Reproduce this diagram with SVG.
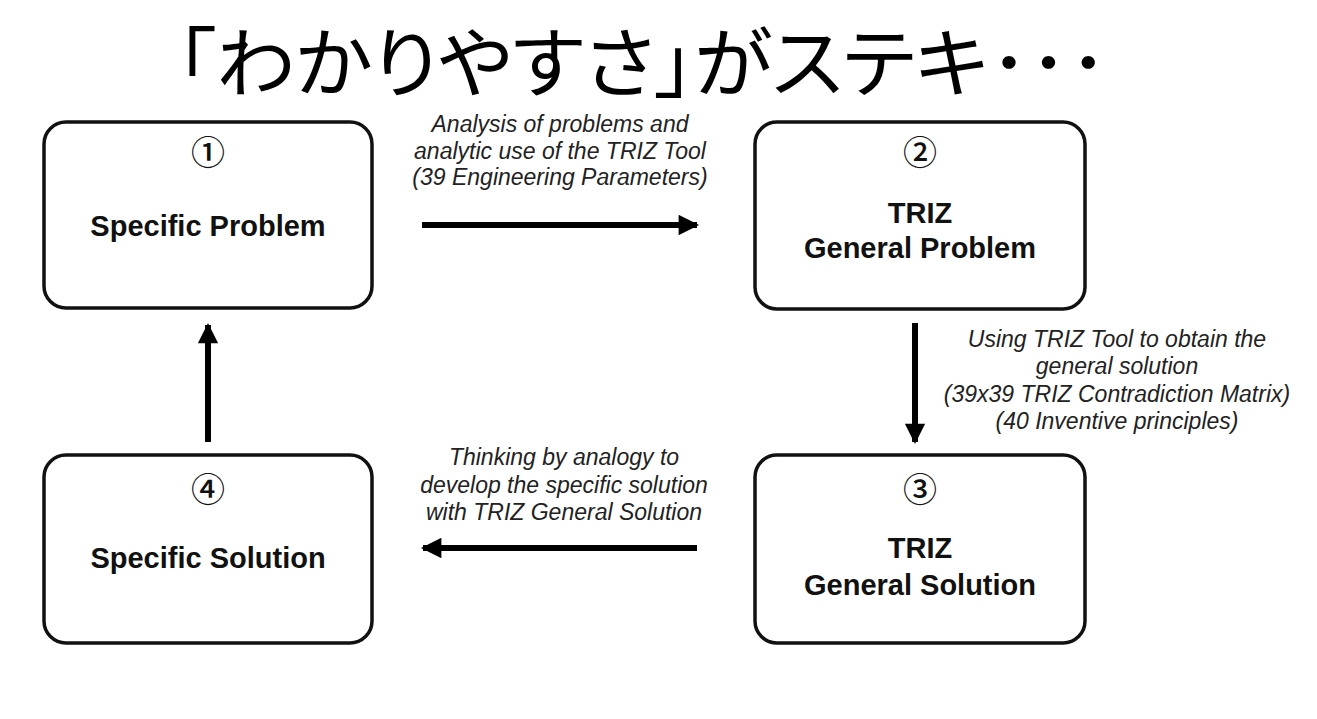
<svg xmlns="http://www.w3.org/2000/svg" width="1317" height="719" viewBox="0 0 1317 719">
<style>
.box{fill:#fff;stroke:#111;stroke-width:3.5}
.num{font-family:"Noto Sans CJK JP","Noto Sans",sans-serif;font-size:34px;font-weight:500;fill:#111;text-anchor:middle}
.lbl{font-family:"Liberation Sans",Arial,sans-serif;font-weight:bold;font-size:29px;fill:#111;text-anchor:middle}
.cap{font-family:"Liberation Sans",Arial,sans-serif;font-style:italic;font-size:23px;fill:#222;text-anchor:middle}
.title{font-family:"Noto Sans CJK JP",sans-serif;font-size:76px;fill:#000;font-feature-settings:"palt"}
.conn{stroke:#000;stroke-width:6;fill:none}
</style>
<defs>
<marker id="ah" viewBox="0 0 10 10" refX="9" refY="5" markerWidth="4" markerHeight="3.4" orient="auto" markerUnits="strokeWidth">
<path d="M0,0 L10,5 L0,10 z" fill="#000"/>
</marker>
</defs>
<rect width="1317" height="719" fill="#fff"/>
<text id="title" class="title" x="176" y="91" textLength="932" lengthAdjust="spacingAndGlyphs">「わかりやすさ」がステキ･･･</text>
<g id="node1">
<rect class="box" x="44" y="122" width="328" height="186" rx="22"/>
<text class="num" x="208" y="165">①</text>
<text class="lbl" x="208" y="236">Specific Problem</text>
</g>
<g id="node2">
<rect class="box" x="755" y="122" width="330" height="187" rx="22"/>
<text class="num" x="920" y="165">②</text>
<text class="lbl" x="920" y="223">TRIZ</text>
<text class="lbl" x="920" y="258">General Problem</text>
</g>
<g id="node3">
<rect class="box" x="755" y="455" width="330" height="188" rx="22"/>
<text class="num" x="920" y="502">③</text>
<text class="lbl" x="920" y="558">TRIZ</text>
<text class="lbl" x="920" y="595">General Solution</text>
</g>
<g id="node4">
<rect class="box" x="44" y="455" width="328" height="188" rx="22"/>
<text class="num" x="208" y="502">④</text>
<text class="lbl" x="208" y="568">Specific Solution</text>
</g>
<g id="connectors">
<line class="conn" x1="422" y1="225" x2="697" y2="225" marker-end="url(#ah)"/>
<line class="conn" x1="915" y1="323" x2="915" y2="442" marker-end="url(#ah)"/>
<line class="conn" x1="697" y1="548" x2="423" y2="548" marker-end="url(#ah)"/>
<line class="conn" x1="208" y1="442" x2="208" y2="325" marker-end="url(#ah)"/>
</g>
<g id="labels">
<text class="cap" x="560" y="132">Analysis of problems and</text>
<text class="cap" x="560" y="159">analytic use of the TRIZ Tool</text>
<text class="cap" x="560" y="185">(39 Engineering Parameters)</text>
<text class="cap" x="1117" y="347">Using TRIZ Tool to obtain the</text>
<text class="cap" x="1117" y="374">general solution</text>
<text class="cap" x="1117" y="402">(39x39 TRIZ Contradiction Matrix)</text>
<text class="cap" x="1117" y="429">(40 Inventive principles)</text>
<text class="cap" x="564" y="465">Thinking by analogy to</text>
<text class="cap" x="564" y="493">develop the specific solution</text>
<text class="cap" x="564" y="520">with TRIZ General Solution</text>
</g>
</svg>
